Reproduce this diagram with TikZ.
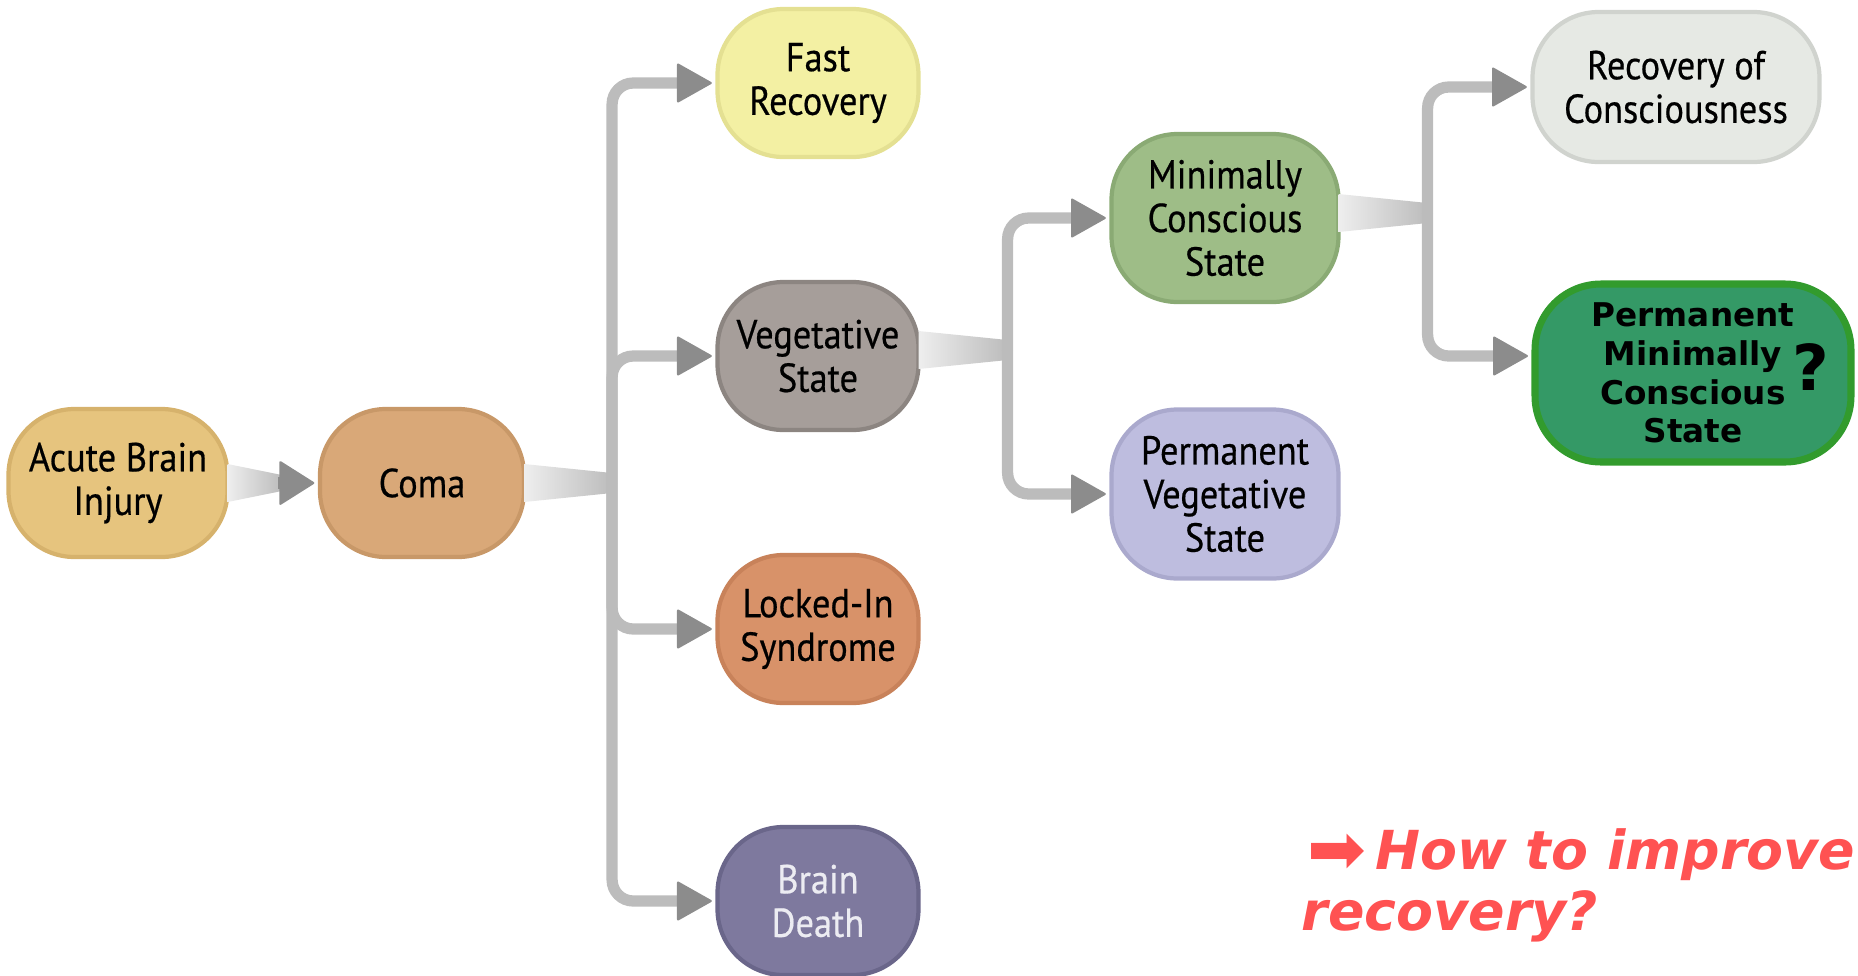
\documentclass[tikz,border=0pt]{standalone}
\usepackage{fontspec}
\setmainfont{PT Sans}[FakeStretch=0.9, FakeBold=0.5]
\newfontfamily\verdana{DejaVu Sans}
\usetikzlibrary{shapes,arrows.meta,positioning,calc}
\definecolor{acutefill}{RGB}{230,196,126}
\definecolor{acuteline}{RGB}{214,178,108}
\definecolor{comafill}{RGB}{217,168,120}
\definecolor{comaline}{RGB}{200,152,104}
\definecolor{fastfill}{RGB}{243,240,163}
\definecolor{fastline}{RGB}{228,224,146}
\definecolor{vegfill}{RGB}{166,158,154}
\definecolor{vegline}{RGB}{140,133,129}
\definecolor{lockedfill}{RGB}{216,146,105}
\definecolor{lockedline}{RGB}{200,130,90}
\definecolor{deathfill}{RGB}{126,121,158}
\definecolor{deathline}{RGB}{106,102,138}
\definecolor{mcsfill}{RGB}{158,189,135}
\definecolor{mcsline}{RGB}{138,170,116}
\definecolor{pvsfill}{RGB}{190,189,223}
\definecolor{pvsline}{RGB}{170,169,205}
\definecolor{recfill}{RGB}{230,233,228}
\definecolor{recline}{RGB}{208,211,206}
\definecolor{pmcsfill}{RGB}{52,153,102}
\definecolor{pmcsline}{RGB}{50,155,45}
\definecolor{trunkgray}{RGB}{188,188,188}
\definecolor{tipgray}{RGB}{140,140,140}
\definecolor{wedgelight}{RGB}{238,238,238}
\definecolor{askred}{RGB}{255,82,82}

\begin{document}
\begin{tikzpicture}[
    state/.style={rectangle, rounded corners=0.66cm, minimum width=2.01cm, minimum height=1.48cm, align=center, line width=1.2pt, inner sep=2pt, font=\fontsize{11.5}{12.4}\selectfont},
    branch/.style={draw=trunkgray, line width=3.2pt, rounded corners=6pt, -{Triangle[length=0.36cm, width=0.40cm, round, line width=0.6pt, color=tipgray]}, shorten >=1pt},
    tip/.style={draw=tipgray, line width=3.2pt, -{Triangle[length=0.36cm, width=0.45cm, round, line width=0.6pt, color=tipgray]}, shorten >=1pt},
    wedge/.style={left color=wedgelight, right color=trunkgray, draw=none},
    question/.style={font=\verdana\bfseries\itshape\fontsize{15.3}{17.2}\selectfont, text=askred, align=left, inner sep=0pt}
]
\useasboundingbox (0,0) rectangle (18.58,-9.75);

% States, column by column
\node[state, fill=acutefill, draw=acuteline, minimum width=2.19cm] (acute) at (1.18,-4.83) {Acute Brain\\Injury};
\node[state, fill=comafill, draw=comaline, minimum width=2.04cm] (coma) at (4.22,-4.83) {Coma};

\node[state, fill=fastfill, draw=fastline] (fast) at (8.18,-0.83) {Fast\\Recovery};
\node[state, fill=vegfill, draw=vegline] (veg) at (8.18,-3.56) {Vegetative\\State};
\node[state, fill=lockedfill, draw=lockedline] (locked) at (8.18,-6.29) {Locked-In\\Syndrome};
\node[state, fill=deathfill, draw=deathline, text={rgb,255:red,236;green,236;blue,242}] (death) at (8.18,-9.01) {Brain\\Death};

\node[state, fill=mcsfill, draw=mcsline, minimum width=2.27cm, minimum height=1.68cm] (mcs) at (12.25,-2.18) {Minimally\\Conscious\\State};
\node[state, fill=pvsfill, draw=pvsline, minimum width=2.27cm, minimum height=1.69cm] (pvs) at (12.25,-4.94) {Permanent\\Vegetative\\State};

\node[state, fill=recfill, draw=recline, minimum width=2.87cm, minimum height=1.50cm] (rec) at (16.76,-0.87) {Recovery of\\Consciousness};
\node[state, fill=pmcsfill, draw=pmcsline, line width=2pt, minimum width=3.16cm, minimum height=1.78cm, font=\verdana\bfseries\fontsize{9.3}{11}\selectfont] (pmcs) at (16.93,-3.73) {Permanent\\Minimally\\Conscious\\State};
\node[font=\verdana\bfseries\fontsize{18}{18}\selectfont, inner sep=0pt] (qmark) at (18.11,-3.67) {?};

% Acute -> Coma
\path[wedge] ($(acute.east)+(-0.02,0.19)$) -- ($(coma.west)+(-0.36,0.08)$) -- ($(coma.west)+(-0.36,-0.08)$) -- ($(acute.east)+(-0.02,-0.19)$) -- cycle;
\draw[tip] ($(coma.west)+(-0.40,0)$) -- (coma.west);

% Coma -> first fork
\coordinate (j1) at ($(coma.east)+(0.86,0)$);
\path[wedge] ($(coma.east)+(-0.02,0.19)$) -- ($(j1)+(0,0.10)$) -- ($(j1)+(0,-0.10)$) -- ($(coma.east)+(-0.02,-0.19)$) -- cycle;
\foreach \n in {fast,veg,locked,death} {
    \draw[branch] (j1) |- (\n.west);
}

% Vegetative State -> second fork
\coordinate (j2) at ($(veg.east)+(0.87,0.06)$);
\path[wedge] ($(veg.east)+(-0.02,0.25)$) -- ($(j2)+(0,0.10)$) -- ($(j2)+(0,-0.10)$) -- ($(veg.east)+(-0.02,-0.13)$) -- cycle;
\draw[branch] (j2) |- (mcs.west);
\draw[branch] (j2) |- (pvs.west);

% Minimally Conscious State -> third fork
\coordinate (j3) at ($(mcs.east)+(0.87,0.05)$);
\path[wedge] ($(mcs.east)+(-0.02,0.24)$) -- ($(j3)+(0,0.10)$) -- ($(j3)+(0,-0.10)$) -- ($(mcs.east)+(-0.02,-0.14)$) -- cycle;
\draw[branch] (j3) |- (rec.west);
\draw[branch] (j3) |- ($(pmcs.west)+(0,0.17)$);

% Open question
\node[question, anchor=north west] (improve) at (13.01,-8.28) {\kern0.06cm{\verdana\mdseries\upshape\fontsize{20}{17.2}\selectfont\raisebox{-1pt}{➡}}\,How to improve\\recovery?};

\end{tikzpicture}
\end{document}
